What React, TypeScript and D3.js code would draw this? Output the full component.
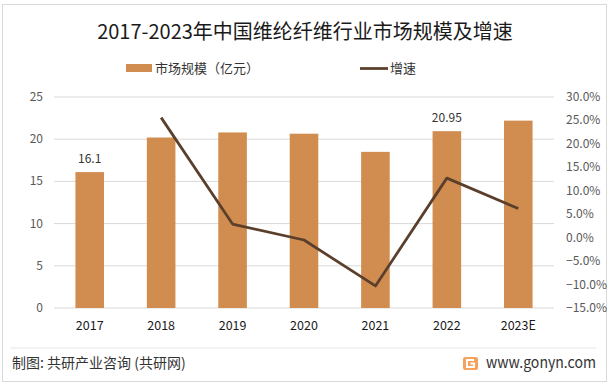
import React from 'react';
import * as d3 from 'd3';

const years = ['2017', '2018', '2019', '2020', '2021', '2022', '2023E'];
const marketSize = [16.1, 20.2, 20.8, 20.65, 18.5, 20.95, 22.2];
const growthRate = [null, 25.6, 2.9, -0.5, -10.3, 12.7, 6.2];
const leftTicks = [0, 5, 10, 15, 20, 25];
const rightTicks = [-15, -10, -5, 0, 5, 10, 15, 20, 25, 30];
const labelledYears = ['2017', '2022'];

const W = 611;
const H = 389;
const BAR = '#D18C4F';
const LINE = '#5B3F2C';
const FONT = '"Noto Sans CJK SC", "Noto Sans", sans-serif';

const App: React.FC = () => {
  const x = d3.scaleBand<string>().domain(years).range([54, 554]).paddingInner(0.6).paddingOuter(0.3);
  const y = d3.scaleLinear().domain([0, 25]).range([308, 97]);
  const y2 = d3.scaleLinear().domain([-15, 30]).range([308, 97]);

  const linePts = years
    .map((yr, i) => ({ yr, v: growthRate[i] }))
    .filter((d) => d.v !== null) as { yr: string; v: number }[];
  const path = d3
    .line<{ yr: string; v: number }>()
    .x((d) => x(d.yr)! + x.bandwidth() / 2)
    .y((d) => y2(d.v))(linePts);

  return (
    <svg
      width={W}
      height={H}
      style={{ position: 'fixed', left: 0, top: 0, background: '#fff', fontFamily: FONT }}
    >
      <rect x={2.5} y={4.5} width={604} height={377} fill="#fff" stroke="#d9d9d9" />

      <text x={305} y={39} textAnchor="middle" fontSize={20} fill="#1a1a1a">
        2017-2023年中国维纶纤维行业市场规模及增速
      </text>

      {/* legend */}
      <rect x={126} y={64} width={26} height={8} fill={BAR} />
      <text x={155} y={73} fontSize={13} fill="#333">市场规模（亿元）</text>
      <line x1={360} x2={388} y1={68.5} y2={68.5} stroke={LINE} strokeWidth={2.75} />
      <text x={390} y={73} fontSize={13} fill="#333">增速</text>

      {/* gridlines */}
      {leftTicks.map((t) => (
        <line key={t} x1={54} x2={554} y1={y(t)} y2={y(t)} stroke="#d9d9d9" strokeWidth={1} />
      ))}

      {/* left axis */}
      {leftTicks.map((t) => (
        <text key={t} x={43} y={y(t) + 4} textAnchor="end" fontSize={12} fill="#595959">
          {t}
        </text>
      ))}

      {/* right axis */}
      {rightTicks.map((t) => (
        <text key={t} x={566} y={y2(t) + 4} textAnchor="start" fontSize={12} fill="#595959">
          {d3.format('.1f')(t)}%
        </text>
      ))}

      {/* bars */}
      {years.map((yr, i) => (
        <rect
          key={yr}
          x={x(yr)}
          y={y(marketSize[i])}
          width={x.bandwidth()}
          height={y(0) - y(marketSize[i])}
          fill={BAR}
        />
      ))}

      {/* data labels */}
      {years.map((yr, i) =>
        labelledYears.includes(yr) ? (
          <text
            key={yr}
            x={x(yr)! + x.bandwidth() / 2}
            y={y(marketSize[i]) - 9}
            textAnchor="middle"
            fontSize={12}
            fill="#333"
          >
            {marketSize[i]}
          </text>
        ) : null
      )}

      <path d={path ?? ''} fill="none" stroke={LINE} strokeWidth={2.75} strokeLinejoin="round" />

      {/* x axis labels */}
      {years.map((yr) => (
        <text key={yr} x={x(yr)! + x.bandwidth() / 2} y={330} textAnchor="middle" fontSize={12.5} fill="#1a1a1a">
          {yr}
        </text>
      ))}

      {/* footer */}
      <line x1={10} x2={596} y1={348} y2={348} stroke="#e6e6e6" />
      <text x={12} y={368} fontSize={14} fill="#333">
        制图: 共研产业咨询 (共研网)
      </text>
      <g transform="translate(463,357)">
        <rect x={0} y={0} width={15} height={13} rx={2} fill="#f5a35c" />
        <path d="M11 3 H4 V10 H11 V6.5 H7.5" fill="none" stroke="#fff" strokeWidth={2} />
      </g>
      <text x={486} y={368} fontSize={15} fill="#333" textLength={110} lengthAdjust="spacingAndGlyphs">
        www.gonyn.com
      </text>
    </svg>
  );
};

export default App;
